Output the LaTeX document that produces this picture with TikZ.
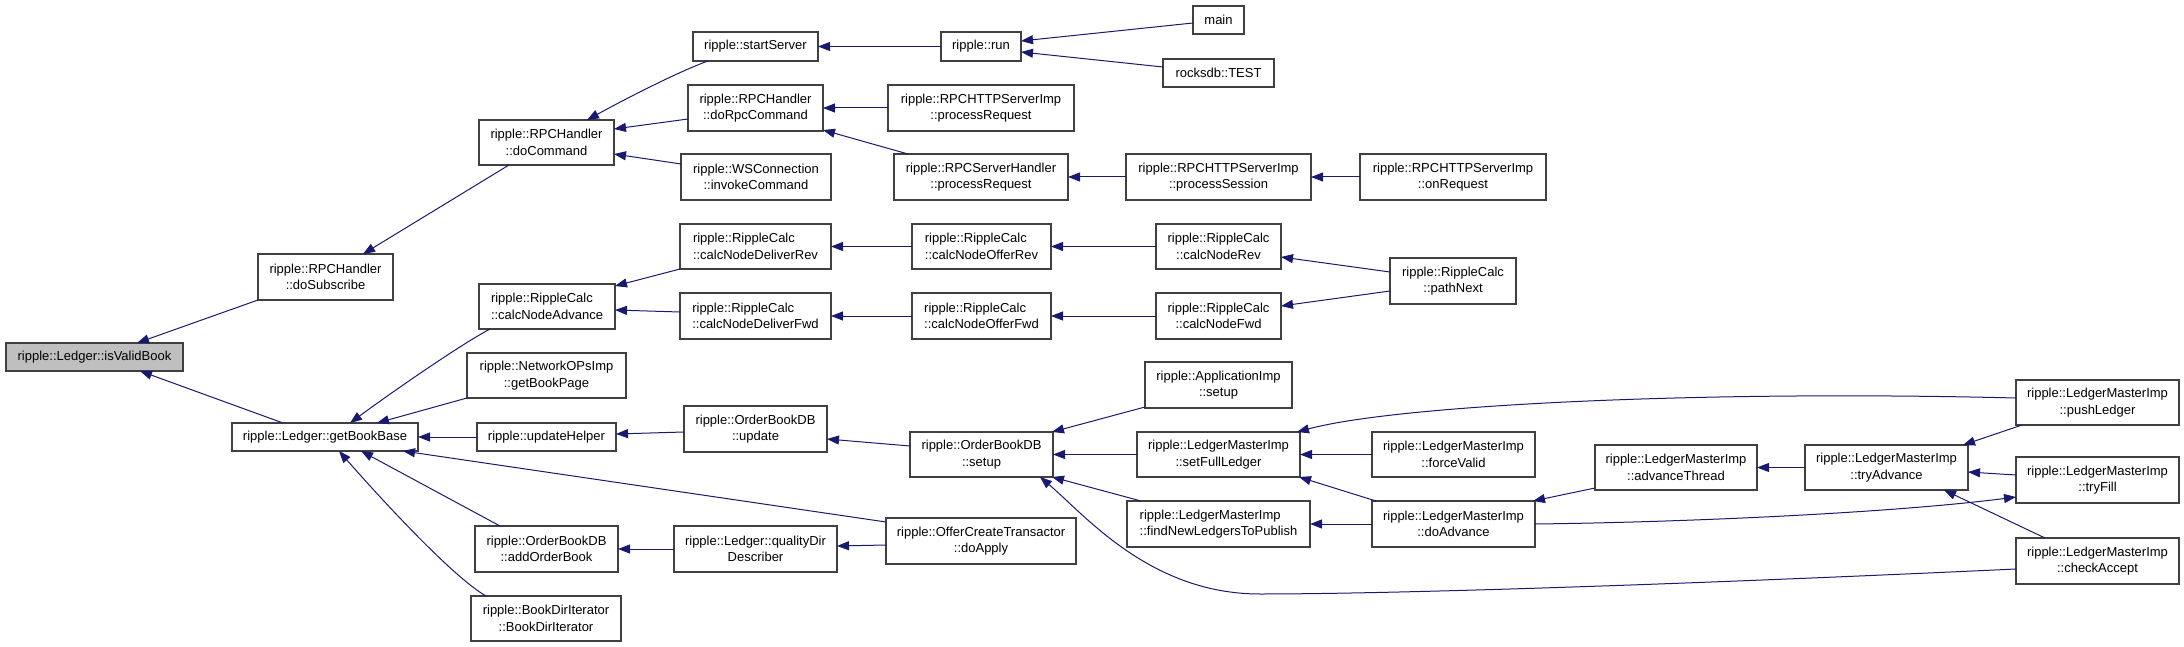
\documentclass[tikz,border=0pt]{standalone}
\usepackage{fontspec}
\newfontfamily\doxfont{Liberation Sans}
\usetikzlibrary{arrows.meta,calc}
\definecolor{edgeblue}{HTML}{191970}
\definecolor{boxline}{HTML}{404040}
\definecolor{focusfill}{HTML}{BFBFBF}
\begin{document}
\begin{tikzpicture}[x=1pt,y=-1pt,
  box/.style={draw=boxline, line width=1.2pt, fill=white, inner sep=0pt, outer sep=0pt,
    align=center, font=\doxfont\fontsize{13}{16.5}\selectfont},
  lbox/.style={box, align=left},
  sz/.style 2 args={minimum width=#1pt, minimum height=#2pt},
  edge/.style={draw=edgeblue, line width=1pt, -{Triangle[length=12pt,width=9pt]}}]
\useasboundingbox (0,0) rectangle (2184,647);
% column 0
\node[box, sz={177}{28}, fill=focusfill] (isvalid) at (94.5,357) {ripple::Ledger::isValidBook};
% column 1
\node[box, sz={135}{46}] (dosub) at (325.5,277) {ripple::RPCHandler\\::doSubscribe};
\node[box, sz={186}{28}] (getbook) at (325,437) {ripple::Ledger::getBookBase};
% column 2
\node[box, sz={135}{45}] (docmd) at (546.5,142.5) {ripple::RPCHandler\\::doCommand};
\node[lbox, sz={136}{45}] (cna) at (547,306.5) {ripple::RippleCalc\\::calcNodeAdvance};
\node[box, sz={159}{45}] (gbp) at (546.5,375.5) {ripple::NetworkOPsImp\\::getBookPage};
\node[box, sz={139}{28}] (uh) at (546.5,437) {ripple::updateHelper};
\node[box, sz={143}{46}] (aob) at (546.5,549) {ripple::OrderBookDB\\::addOrderBook};
\node[box, sz={150}{45}] (bdi) at (546,618.5) {ripple::BookDirIterator\\::BookDirIterator};
% column 3
\node[box, sz={125}{29}] (ss) at (755.5,46.5) {ripple::startServer};
\node[box, sz={135}{46}] (rpc) at (755.5,108) {ripple::RPCHandler\\::doRpcCommand};
\node[box, sz={150}{46}] (ws) at (756,177) {ripple::WSConnection\\::invokeCommand};
\node[lbox, sz={151}{45}] (cndr) at (755.5,246.5) {ripple::RippleCalc\\::calcNodeDeliverRev};
\node[lbox, sz={151}{46}] (cndf) at (755.5,316) {ripple::RippleCalc\\::calcNodeDeliverFwd};
\node[box, sz={143}{46}] (upd) at (755.5,429) {ripple::OrderBookDB\\::update};
\node[box, sz={163}{46}] (qd) at (755.5,549) {ripple::Ledger::qualityDir\\Describer};
% column 4
\node[box, sz={80}{29}] (run) at (981,46.5) {ripple::run};
\node[box, sz={186}{46}] (hpr) at (981,108) {ripple::RPCHTTPServerImp\\::processRequest};
\node[box, sz={174}{46}] (shpr) at (981,177) {ripple::RPCServerHandler\\::processRequest};
\node[lbox, sz={139}{45}] (cnor) at (981.5,246.5) {ripple::RippleCalc\\::calcNodeOfferRev};
\node[lbox, sz={139}{46}] (cnof) at (981.5,316) {ripple::RippleCalc\\::calcNodeOfferFwd};
\node[box, sz={143}{45}] (setup) at (981.5,454.5) {ripple::OrderBookDB\\::setup};
\node[box, sz={190}{46}] (doapply) at (981,541) {ripple::OfferCreateTransactor\\::doApply};
% column 5
\node[box, sz={51}{28}] (main) at (1218.5,20) {main};
\node[box, sz={111}{28}] (test) at (1218.5,73) {rocksdb::TEST};
\node[box, sz={185}{46}] (psess) at (1218.5,177) {ripple::RPCHTTPServerImp\\::processSession};
\node[box, sz={125}{45}] (cnr) at (1218.5,246.5) {ripple::RippleCalc\\::calcNodeRev};
\node[box, sz={125}{46}] (cnf) at (1218.5,316) {ripple::RippleCalc\\::calcNodeFwd};
\node[box, sz={147}{46}] (app) at (1218.5,385) {ripple::ApplicationImp\\::setup};
\node[box, sz={163}{45}] (sfl) at (1218.5,454.5) {ripple::LedgerMasterImp\\::setFullLedger};
\node[lbox, sz={183}{46}] (fnl) at (1218.5,524) {ripple::LedgerMasterImp\\::findNewLedgersToPublish};
% column 6
\node[box, sz={186}{46}] (onreq) at (1453,177) {ripple::RPCHTTPServerImp\\::onRequest};
\node[box, sz={126}{46}] (pn) at (1453,281) {ripple::RippleCalc\\::pathNext};
\node[box, sz={163}{45}] (fv) at (1453.5,454.5) {ripple::LedgerMasterImp\\::forceValid};
\node[box, sz={163}{46}] (doadv) at (1453.5,524) {ripple::LedgerMasterImp\\::doAdvance};
% columns 7-9
\node[box, sz={162}{45}] (at) at (1676,467.5) {ripple::LedgerMasterImp\\::advanceThread};
\node[box, sz={163}{45}] (ta) at (1886.5,467.5) {ripple::LedgerMasterImp\\::tryAdvance};
\node[box, sz={163}{45}] (push) at (2097.5,402.5) {ripple::LedgerMasterImp\\::pushLedger};
\node[box, sz={163}{46}] (tf) at (2097.5,480) {ripple::LedgerMasterImp\\::tryFill};
\node[box, sz={163}{46}] (ca) at (2097.5,561) {ripple::LedgerMasterImp\\::checkAccept};

% edges (arrowhead at the called function)
\draw[edge] ($(dosub.north west)+(0,46)$) -- ($(isvalid.north west)+(131,0)$);
\draw[edge] ($(getbook.north west)+(51,0)$) -- ($(isvalid.north west)+(134,28)$);
\draw[edge] ($(docmd.north west)+(30,45)$) -- ($(dosub.north west)+(105,0)$);
\draw[edge] ($(ss.north west)+(15,29)$) .. controls +(-28,10) and +(40,-22) .. ($(docmd.north west)+(108,0)$);
\draw[edge] ($(rpc.north west)+(0,34)$) -- ($(docmd.north west)+(135,9)$);
\draw[edge] ($(ws.north west)+(0,10)$) -- ($(docmd.north west)+(135,34)$);
\draw[edge] (run.west) -- (ss.east);
\draw[edge] ($(main.north west)+(0,17)$) -- ($(run.north west)+(80,9)$);
\draw[edge] ($(test.north west)+(0,8)$) -- ($(run.north west)+(80,20)$);
\draw[edge] (hpr.west) -- (rpc.east);
\draw[edge] ($(shpr.north west)+(14,0)$) -- ($(rpc.north west)+(135,45)$);
\draw[edge] (psess.west) -- (shpr.east);
\draw[edge] (onreq.west) -- (psess.east);
\draw[edge] ($(cna.north west)+(11,45)$) .. controls +(-30,16) and +(45,-33) .. ($(getbook.north west)+(118,0)$);
\draw[edge] ($(gbp.north west)+(0,45)$) -- ($(getbook.north west)+(145,0)$);
\draw[edge] (uh.west) -- (getbook.east);
\draw[edge] ($(doapply.north west)+(0,4)$) -- ($(getbook.north west)+(171,28)$);
\draw[edge] ($(aob.north west)+(25,0)$) -- ($(getbook.north west)+(129,28)$);
\draw[edge] ($(bdi.north west)+(15,0)$) .. controls +(-35,-20) and +(35,40) .. ($(getbook.north west)+(107,28)$);
\draw[edge] (qd.west) -- (aob.east);
\draw[edge] ($(doapply.north west)+(0,27)$) -- ($(qd.north west)+(163,20)$);
\draw[edge] ($(cndr.north west)+(0,45)$) -- ($(cna.north west)+(136,2)$);
\draw[edge] ($(cndf.north west)+(0,19)$) -- ($(cna.north west)+(136,26)$);
\draw[edge] (cnor.west) -- (cndr.east);
\draw[edge] (cnof.west) -- (cndf.east);
\draw[edge] (cnr.west) -- (cnor.east);
\draw[edge] (cnf.west) -- (cnof.east);
\draw[edge] ($(pn.north west)+(0,14)$) -- ($(cnr.north west)+(125,33)$);
\draw[edge] ($(pn.north west)+(0,33)$) -- ($(cnf.north west)+(125,13)$);
\draw[edge] ($(upd.north west)+(0,26)$) -- ($(uh.north west)+(139,11)$);
\draw[edge] ($(setup.north west)+(0,14)$) -- ($(upd.north west)+(143,33)$);
\draw[edge] ($(app.north west)+(0,45)$) -- ($(setup.north west)+(142,0)$);
\draw[edge] (sfl.west) -- (setup.east);
\draw[edge] ($(fnl.north west)+(14,0)$) -- ($(setup.north west)+(142,45)$);
\draw[edge] ($(ca.north west)+(0,31)$) .. controls (1650,586) and (1380,594) .. (1260,594)
   .. controls (1150,594) and (1085,515) .. ($(setup.north west)+(130,45)$);
\draw[edge] ($(push.north west)+(0,18)$) .. controls +(-316,-8) and +(100,-27) .. ($(sfl.north west)+(160,0)$);
\draw[edge] (fv.west) -- (sfl.east);
\draw[edge] ($(doadv.north west)+(4,0)$) -- ($(sfl.north west)+(162,45)$);
\draw[edge] (doadv.west) -- (fnl.east);
\draw[edge] ($(at.north west)+(0,43)$) -- ($(doadv.north west)+(161,0)$);
\draw[edge] (doadv.east) .. controls +(165,-2) and +(-116,15) .. ($(tf.north west)+(0,40)$);
\draw[edge] (ta.west) -- (at.east);
\draw[edge] ($(push.north west)+(6,45)$) -- ($(ta.north west)+(158,0)$);
\draw[edge] ($(tf.north west)+(0,18)$) -- ($(ta.north west)+(163,27)$);
\draw[edge] ($(ca.north west)+(29,0)$) -- ($(ta.north west)+(139,45)$);
\end{tikzpicture}
\end{document}
